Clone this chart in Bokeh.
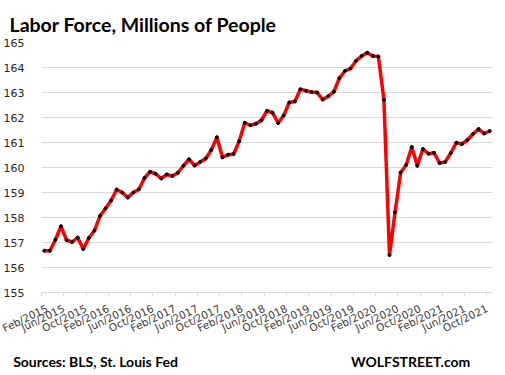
from bokeh.plotting import figure
from bokeh.models import FixedTicker, LinearAxis, Range1d
from bokeh.embed import file_html
from bokeh.resources import INLINE

# Monthly labor force, millions, Feb/2015 .. Oct/2021
labor_force = [
    156.67, 156.67, 157.11, 157.65, 157.10, 157.02, 157.20, 156.74, 157.18, 157.47,
    158.06, 158.36, 158.68, 159.12, 159.00, 158.80, 159.00, 159.13, 159.58, 159.83,
    159.75, 159.56, 159.72, 159.66, 159.79, 160.07, 160.33, 160.08, 160.22, 160.36,
    160.70, 161.21, 160.41, 160.51, 160.54, 161.05, 161.79, 161.69, 161.75, 161.89,
    162.27, 162.19, 161.78, 162.08, 162.60, 162.64, 163.13, 163.07, 163.02, 163.00,
    162.72, 162.85, 163.03, 163.57, 163.86, 163.96, 164.27, 164.46, 164.59, 164.46,
    164.44, 162.71, 156.50, 158.21, 159.80, 160.10, 160.82, 160.07, 160.74, 160.55,
    160.59, 160.18, 160.22, 160.58, 160.99, 160.94, 161.10, 161.34, 161.54, 161.36,
    161.46,
]
month_index = list(range(len(labor_force)))

tick_labels = [
    "Feb/2015", "Jun/2015", "Oct/2015", "Feb/2016", "Jun/2016", "Oct/2016",
    "Feb/2017", "Jun/2017", "Oct/2017", "Feb/2018", "Jun/2018", "Oct/2018",
    "Feb/2019", "Jun/2019", "Oct/2019", "Feb/2020", "Jun/2020", "Oct/2020",
    "Feb/2021", "Jun/2021", "Oct/2021",
]
tick_step = 4
y_ticks = list(range(155, 166))

title_text = "Labor Force, Millions of People"
source_text = "Sources: BLS, St. Louis Fed"
brand_text = "WOLFSTREET.com"
# horizontal centres of the footer texts, in month-index units
footer_pos = [9.2, 65.8]

W = 494
n = len(labor_force)
p = figure(width=W, height=372, output_backend="svg", toolbar_location=None,
           x_range=Range1d(-0.5, n - 0.5), y_range=Range1d(155, 165),
           min_border_left=32, min_border_right=2, min_border_top=42, min_border_bottom=77)
p.outline_line_color = None
p.background_fill_color = "white"
p.border_fill_color = "white"

p.title.text = title_text
p.title.align = "left"
p.title.offset = -32
p.title.text_font = "Lato"
p.title.text_font_style = "bold"
p.title.text_font_size = "19.5px"
p.title.text_color = "black"
p.title.standoff = 13

tick_pos = [i - 0.5 for i in range(0, n, tick_step)]
p.xaxis.ticker = FixedTicker(ticks=tick_pos)
p.xaxis.major_label_overrides = {t: lab for t, lab in zip(tick_pos, tick_labels)}
p.xaxis.major_label_orientation = 0.45
p.xaxis.major_label_text_font = "DejaVu Sans"
p.xaxis.major_label_text_font_size = "10.5px"
p.xaxis.major_label_text_color = "#404040"
p.xaxis.axis_line_color = "#D9D9D9"
p.xaxis.major_tick_line_color = "#D9D9D9"
p.xaxis.major_tick_out = 4
p.xaxis.major_tick_in = 0
p.xaxis.minor_tick_line_color = None
p.xaxis.major_label_standoff = 11

# footer texts drawn as the labels of a second, line-less bottom axis
footer_axis = LinearAxis(ticker=FixedTicker(ticks=footer_pos),
                         major_label_overrides={footer_pos[0]: source_text,
                                                footer_pos[1]: brand_text})
footer_axis.axis_line_color = None
footer_axis.major_tick_line_color = None
footer_axis.minor_tick_line_color = None
footer_axis.major_tick_out = 0
footer_axis.major_tick_in = 0
footer_axis.major_label_standoff = 10
footer_axis.major_label_text_font = "Lato"
footer_axis.major_label_text_font_style = "bold"
footer_axis.major_label_text_font_size = "14px"
footer_axis.major_label_text_color = "black"
p.add_layout(footer_axis, "below")

p.yaxis.ticker = FixedTicker(ticks=y_ticks)
p.yaxis.axis_line_color = None
p.yaxis.major_tick_line_color = None
p.yaxis.minor_tick_line_color = None
p.yaxis.major_label_text_font = "DejaVu Sans"
p.yaxis.major_label_text_font_size = "11px"
p.yaxis.major_label_text_color = "#262626"
p.yaxis.major_label_standoff = 11

p.xgrid.grid_line_color = None
p.ygrid.ticker = FixedTicker(ticks=y_ticks)
p.ygrid.grid_line_color = "#D9D9D9"
p.ygrid.grid_line_width = 1

p.line(month_index, labor_force, line_color="#FF0000", line_width=3.5, line_join="round")
p.scatter(month_index, labor_force, size=3, color="black")

open("out.html", "w").write(file_html(p, INLINE))
